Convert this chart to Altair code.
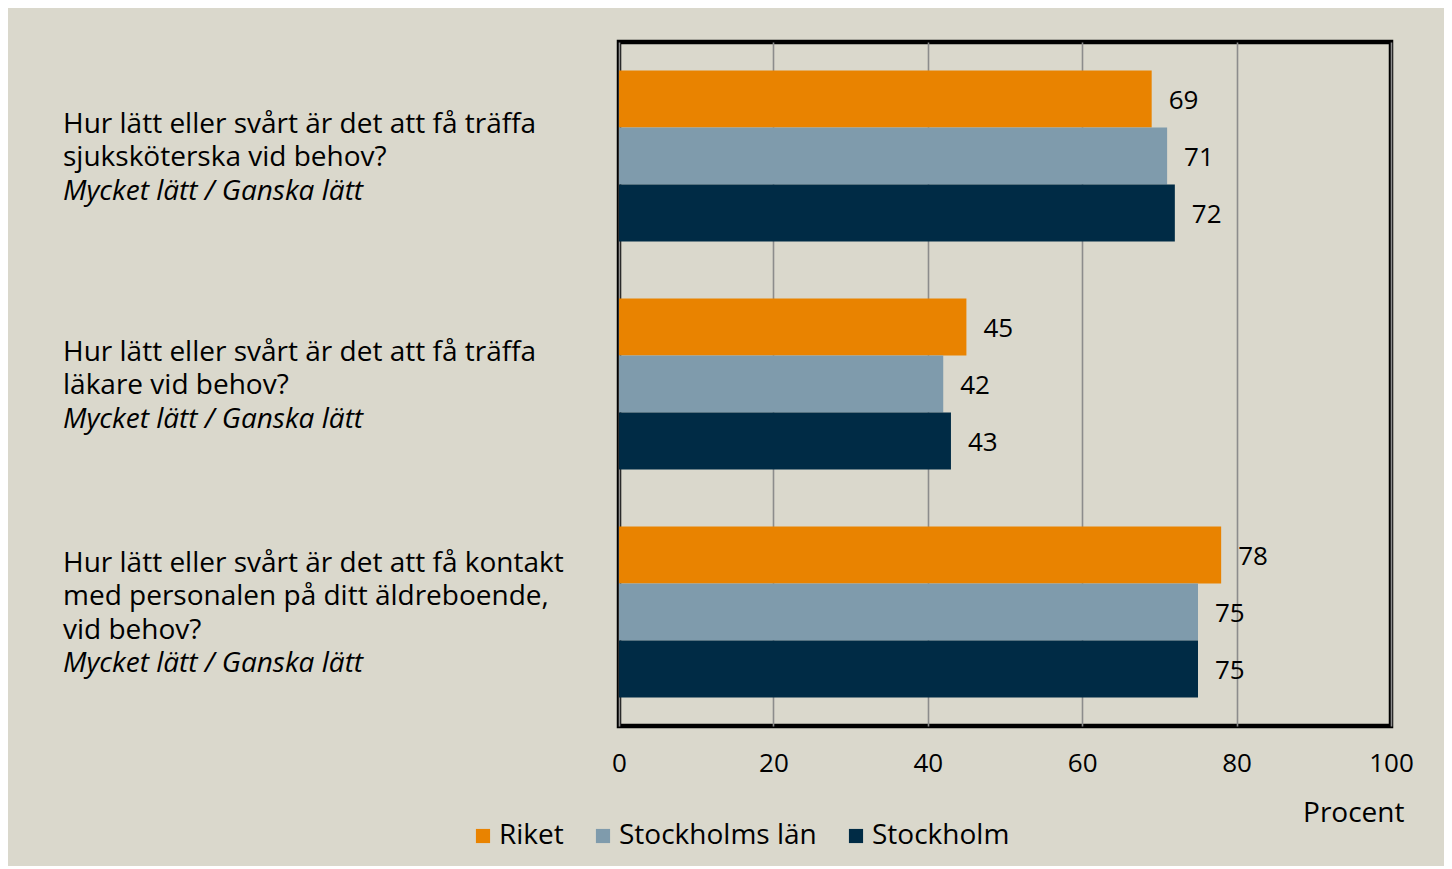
import altair as alt
import pandas as pd

# ---- data ----
question_ids = ["q1", "q2", "q3"]
question_main = [
    ["Hur lätt eller svårt är det att få träffa", "sjuksköterska vid behov?"],
    ["Hur lätt eller svårt är det att få träffa", "läkare vid behov?"],
    ["Hur lätt eller svårt är det att få kontakt",
     "med personalen på ditt äldreboende,", "vid behov?"],
]
question_sub = ["Mycket lätt / Ganska lätt"] * 3

series = ["Riket", "Stockholms län", "Stockholm"]
riket = [69, 45, 78]
stockholms_lan = [71, 42, 75]
stockholm = [72, 43, 75]
colors = ["#E98300", "#7F9BAC", "#002B45"]

FONT = "Open Sans"
FS_NUM = 26
FS_TXT = 28
LH = 33.5

rows = []
for s, vals in zip(series, [riket, stockholms_lan, stockholm]):
    for q, v in zip(question_ids, vals):
        rows.append({"q": q, "series": s, "value": v})
df = pd.DataFrame(rows)

lab_rows = []
for q, m, sub in zip(question_ids, question_main, question_sub):
    lines = m + [sub]
    n = len(lines)
    for i, t in enumerate(lines):
        lab_rows.append({"q": q, "txt": t, "slot": i - (n - 1) / 2,
                         "italic": i == n - 1})
labels = pd.DataFrame(lab_rows)

y_enc = alt.Y("q:N", sort=question_ids, axis=None,
              scale=alt.Scale(paddingInner=0.25, paddingOuter=0.125))
yoff = alt.YOffset("series:N", sort=series,
                   scale=alt.Scale(paddingInner=0, paddingOuter=0))
x_enc = alt.X("value:Q", scale=alt.Scale(domain=[0, 100], nice=False),
              axis=alt.Axis(values=[0, 20, 40, 60, 80, 100], grid=True,
                            gridColor="#8C8C8C", gridWidth=1.6, domain=False,
                            ticks=False, labelFontSize=FS_NUM, labelFont=FONT,
                            labelColor="black", labelPadding=24, labelFlush=False,
                            title="Procent", titleFont=FONT, titleFontSize=FS_TXT,
                            titleFontWeight="normal", titleColor="black",
                            titleX=785, titleY=87, titleAlign="right",
                            titleBaseline="middle"))

bars = alt.Chart(df).mark_bar().encode(
    x=x_enc, y=y_enc, yOffset=yoff,
    color=alt.Color("series:N", sort=series,
                    scale=alt.Scale(domain=series, range=colors),
                    legend=alt.Legend(orient="none", direction="horizontal",
                                      legendX=-150, legendY=780, title=None,
                                      symbolType="square", symbolSize=200,
                                      symbolStrokeWidth=0, symbolOpacity=1,
                                      labelFont=FONT, labelFontSize=FS_TXT,
                                      labelColor="black", labelOffset=2,
                                      labelLimit=0, columnPadding=25, padding=0)),
)

vals = alt.Chart(df).mark_text(align="left", baseline="middle", dx=17, dy=2,
                               font=FONT, fontSize=FS_NUM, color="black").encode(
    x="value:Q", y=y_enc, yOffset=yoff, text="value:Q")

layers = [bars, vals]
for slot in sorted(labels["slot"].unique()):
    for it in [False, True]:
        sub = labels[(labels["slot"] == slot) & (labels["italic"] == it)]
        if len(sub) == 0:
            continue
        layers.append(
            alt.Chart(sub).mark_text(
                align="left", baseline="middle", dy=float(slot) * LH + 2,
                font=FONT, fontSize=FS_TXT, fontStyle="italic" if it else "normal",
                color="black").encode(x=alt.value(-556), y=y_enc, text="txt:N")
        )

chart = alt.layer(*layers).properties(
    width=772, height=684,
    autosize=alt.AutoSizeParams(type="none"),
    padding={"left": 611, "top": 34, "right": 53, "bottom": 140},
    background="#DAD8CC",
).configure_view(stroke="black", strokeWidth=4.5)

chart.save("out.html", embed_options={"renderer": "svg", "actions": False})
